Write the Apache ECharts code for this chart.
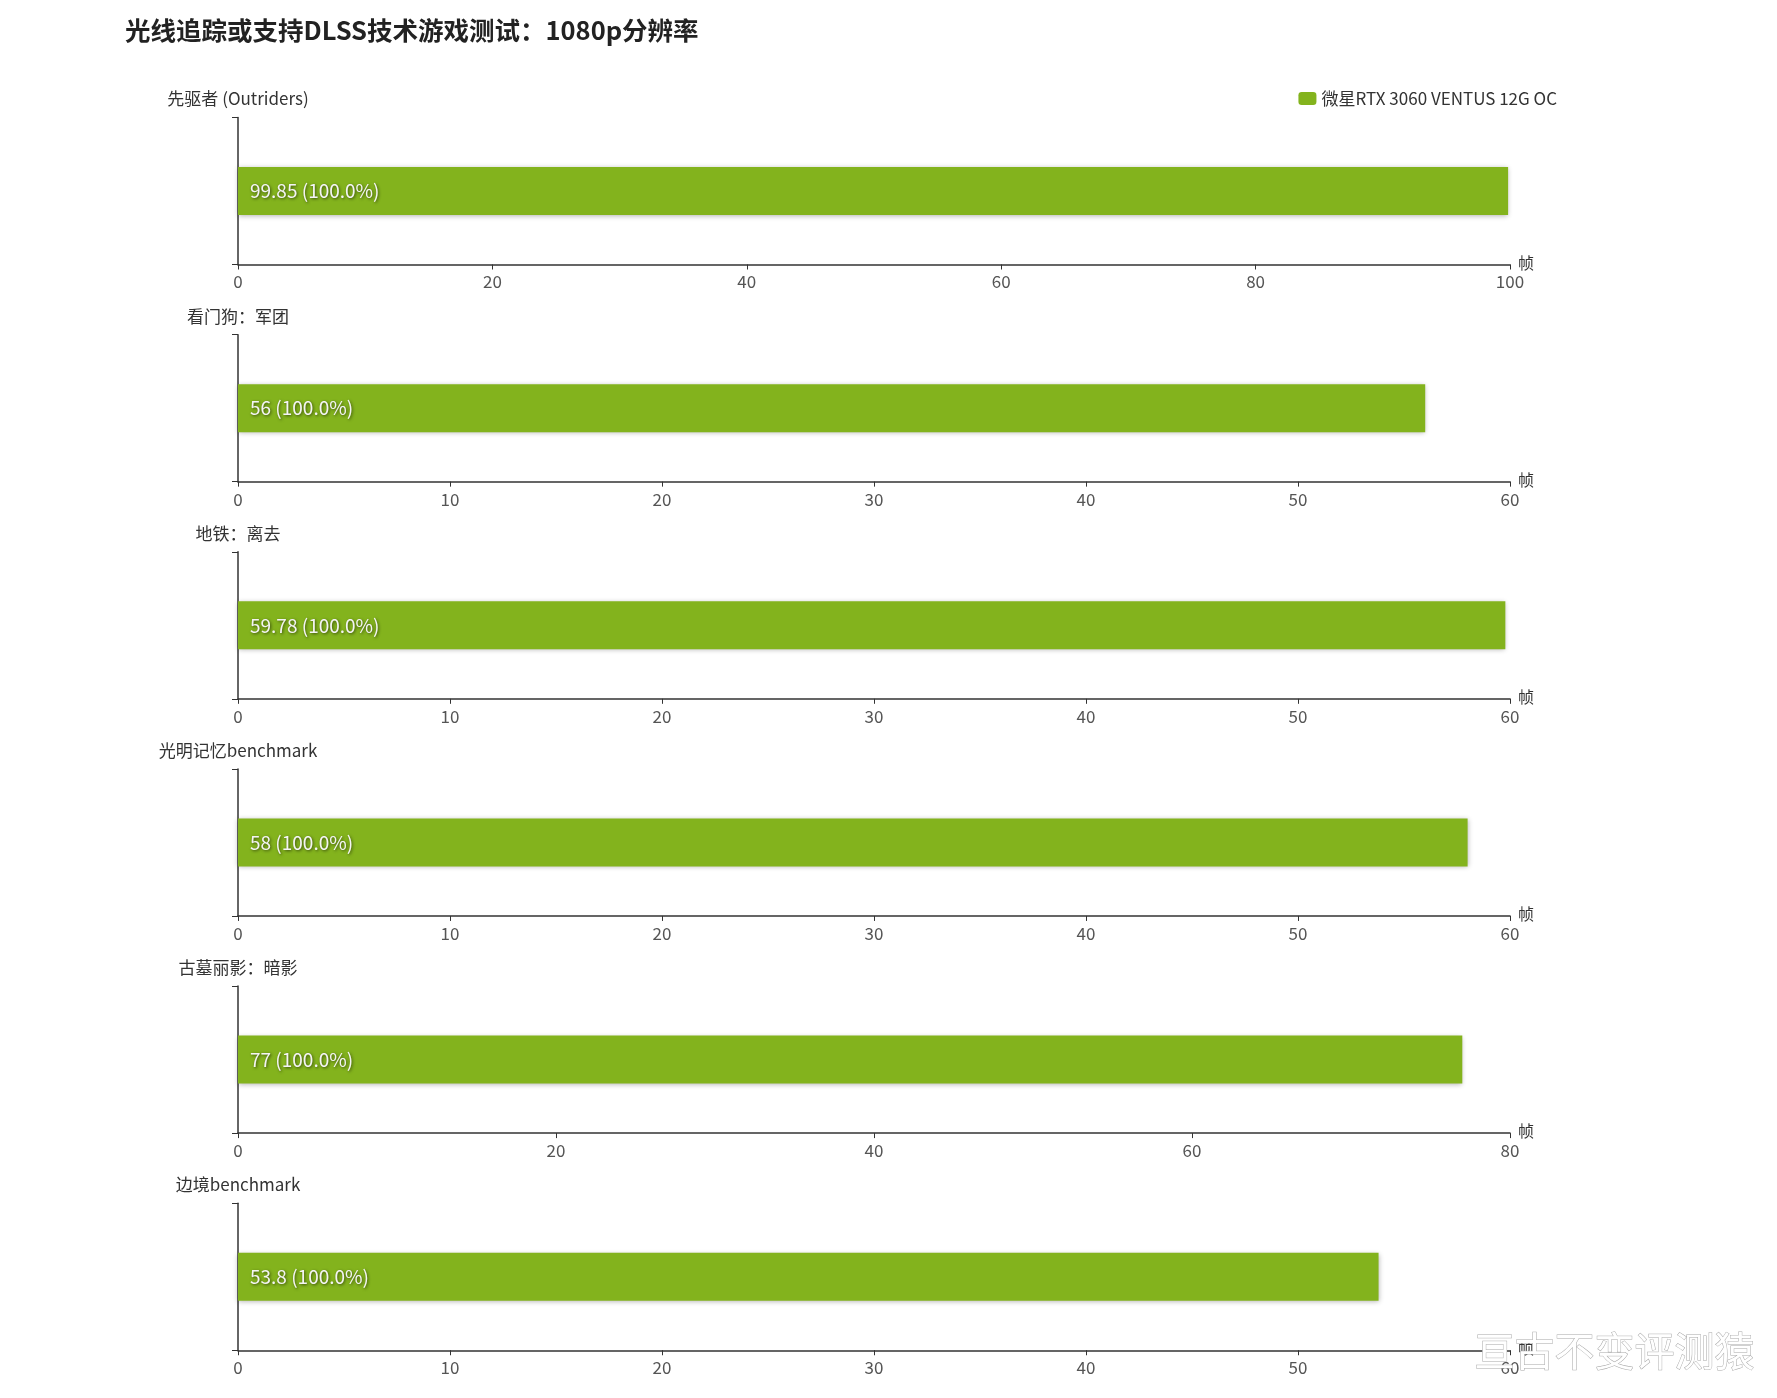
<!DOCTYPE html>
<html>
<head>
<meta charset="utf-8">
<script src="https://cdn.jsdelivr.net/npm/echarts@6/dist/echarts.min.js"></script>
<style>
html,body{margin:0;padding:0;background:#fff;}
#chart{width:1777px;height:1398px;}
</style>
</head>
<body>
<div id="chart"></div>
<script>
var titleText = '光线追踪或支持DLSS技术游戏测试：1080p分辨率';
var seriesName = '微星RTX 3060 VENTUS 12G OC';
var games = ['先驱者 (Outriders)', '看门狗：军团', '地铁：离去', '光明记忆benchmark', '古墓丽影：暗影', '边境benchmark'];
var fpsValues = [99.85, 56, 59.78, 58, 77, 53.8];
var percentLabels = ['100.0%', '100.0%', '100.0%', '100.0%', '100.0%', '100.0%'];
var axisMax = [100, 60, 60, 60, 80, 60];
var axisInterval = [20, 10, 10, 10, 20, 10];
var unitName = '帧';
var watermark = '亘古不变评测猿';

var FONT = '"Noto Sans CJK SC", "Noto Sans", sans-serif';
var grids = [], xAxes = [], yAxes = [], series = [];
var firstBottom = 264.5, step = 217.15, gridH = 147;
games.forEach(function (g, i) {
  var bottomY = firstBottom + step * i;
  grids.push({left: 238, width: 1272, top: bottomY - gridH, height: gridH, containLabel: false});
  xAxes.push({
    type: 'value', gridIndex: i, min: 0, max: axisMax[i], interval: axisInterval[i],
    name: unitName, nameLocation: 'end', nameGap: 8,
    nameTextStyle: {color: '#333', fontSize: 16, fontFamily: FONT, verticalAlign: 'bottom', padding: [0, 0, -6, 0]},
    splitLine: {show: false},
    axisLine: {show: true, lineStyle: {color: '#333', width: 1.5}},
    axisTick: {show: true, length: 5, lineStyle: {color: '#333'}},
    axisLabel: {color: '#555', fontSize: 17, fontFamily: FONT, margin: 9}
  });
  yAxes.push({
    type: 'category', gridIndex: i, data: [g],
    name: g, nameLocation: 'end', nameGap: 10,
    nameTextStyle: {color: '#333', fontSize: 17, fontFamily: FONT},
    axisLine: {show: true, lineStyle: {color: '#333', width: 1.5}},
    axisTick: {show: true, length: 6, lineStyle: {color: '#333'}},
    axisLabel: {show: false}
  });
  series.push({
    name: seriesName, type: 'bar', xAxisIndex: i, yAxisIndex: i,
    data: [fpsValues[i]], barWidth: 48,
    itemStyle: {color: '#83b31d', shadowBlur: 5, shadowColor: 'rgba(0,0,0,0.3)', shadowOffsetY: 1},
    label: {
      show: true, position: 'insideLeft', distance: 12,
      color: '#f4f4f4', fontSize: 19, fontFamily: FONT,
      textShadowColor: 'rgba(0,0,0,0.6)', textShadowBlur: 3, textShadowOffsetX: 1, textShadowOffsetY: 1,
      formatter: (function (idx) { return function (p) { return p.value + ' (' + percentLabels[idx] + ')'; }; })(i)
    }
  });
});

var chart = echarts.init(document.getElementById('chart'));
chart.setOption({
  backgroundColor: '#fff',
  animation: false,
  title: {text: titleText, left: 120, top: 13, textStyle: {fontSize: 25.5, fontWeight: 'bold', color: '#222', fontFamily: FONT}},
  legend: {
    data: [seriesName], right: 215, top: 85, itemWidth: 18, itemHeight: 13, itemGap: 8,
    textStyle: {fontSize: 17, color: '#333', fontFamily: FONT}
  },
  grid: grids, xAxis: xAxes, yAxis: yAxes, series: series,
  graphic: [{
    type: 'text', right: 22, top: 1330, z: 100,
    style: {text: watermark, fontSize: 40, fontFamily: FONT, fill: '#fff', stroke: '#aaa', lineWidth: 1}
  }]
});
</script>
</body>
</html>
